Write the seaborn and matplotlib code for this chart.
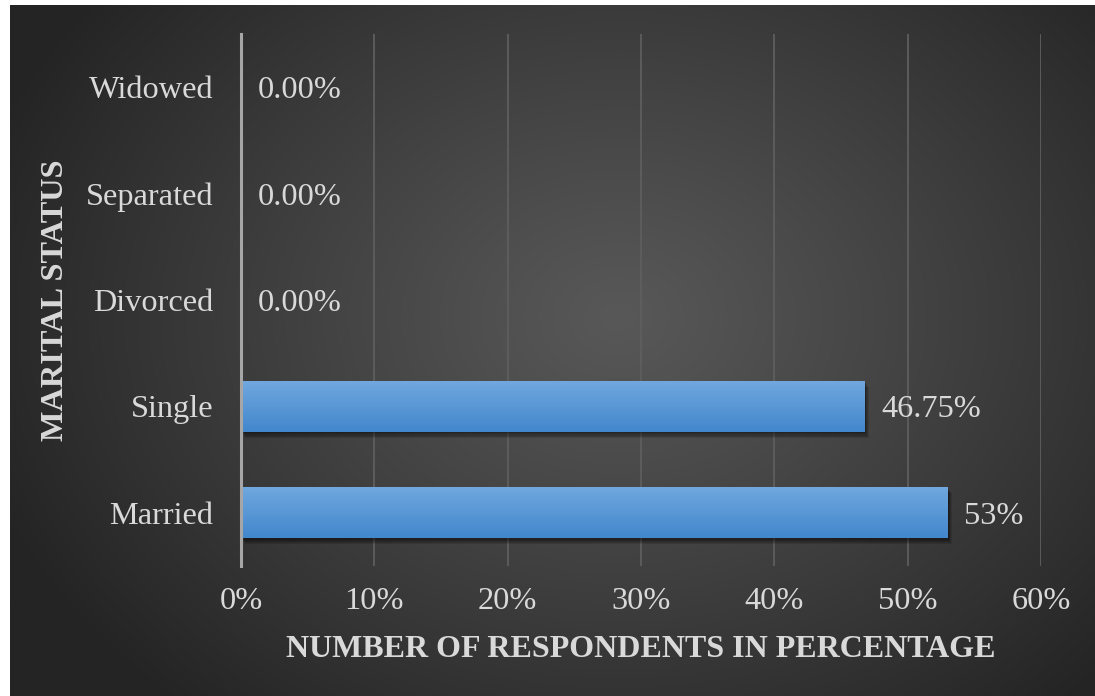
import numpy as np
import pandas as pd
import matplotlib
matplotlib.use("Agg")
import matplotlib.pyplot as plt
import matplotlib.patheffects as pe
import seaborn as sns

# Survey data: marital status of respondents
categories = ["Widowed", "Separated", "Divorced", "Single", "Married"]
percentages = [0.0, 0.0, 0.0, 46.75, 53.0]
value_labels = ["0.00%", "0.00%", "0.00%", "46.75%", "53%"]
x_ticks = [0, 10, 20, 30, 40, 50, 60]
x_tick_labels = ["0%", "10%", "20%", "30%", "40%", "50%", "60%"]

df = pd.DataFrame({"status": categories, "pct": percentages})

sns.set_theme(style="white")
plt.rcParams["font.family"] = ["Liberation Serif", "DejaVu Serif"]

TEXT = "#d9d9d9"
FS = 23.3
W, H = 1095, 696
fig = plt.figure(figsize=(W / 100, H / 100), dpi=100)
fig.patch.set_facecolor("white")

# Dark radial-gradient backdrop
bg = fig.add_axes([10 / W, 0, 1 - 10 / W, 1 - 5 / H], zorder=-5)
bh, bw = 400, 640
yy, xx = np.mgrid[0:bh, 0:bw]
cx, cy = 0.56 * bw, 0.45 * bh
r = np.sqrt(((xx - cx) / (0.62 * bw)) ** 2 + ((yy - cy) / (0.75 * bh)) ** 2)
r = np.clip(r, 0, 1)
g = (88 - (88 - 36) * r ** 1.1) / 255.0
bg.imshow(np.dstack([g, g, g]), aspect="auto", extent=[0, 1, 0, 1], interpolation="bilinear")
bg.set_axis_off()

ax = fig.add_axes([241 / W, 1 - 566 / H, 800 / W, 532 / H])
ax.set_facecolor("none")

sns.barplot(data=df, x="pct", y="status", order=categories, orient="h",
            color="#5b9bd5", width=0.48, ax=ax, zorder=3)

ax.set_xlim(x_ticks[0], x_ticks[-1])

# Vertical gradient fill and soft drop shadow on each bar
top_c = np.array([113, 168, 223]) / 255.0
bot_c = np.array([66, 135, 204]) / 255.0
t = np.linspace(0, 1, 64)[:, None]
grad = (top_c[None, :] * (1 - t) + bot_c[None, :] * t)[:, None, :]
shadow = [pe.SimplePatchShadow(offset=(1 + 0.5 * k, -1 - 0.8 * k), shadow_rgbFace="black", alpha=0.12)
          for k in range(5)]
for patch in ax.patches:
    patch.set_edgecolor("none")
    patch.set_path_effects(shadow + [pe.Normal()])
    x0, y0 = patch.get_x(), patch.get_y()
    w, h = patch.get_width(), patch.get_height()
    if w > 0:
        im = ax.imshow(grad, extent=[x0, x0 + w, y0 + h, y0], aspect="auto",
                       interpolation="bilinear", zorder=4)
        im.set_clip_path(patch)
ax.set_ylim(len(categories) - 0.5, -0.5)

# Value labels at the end of each bar
for i, (v, lab) in enumerate(zip(percentages, value_labels)):
    ax.annotate(lab, xy=(v, i), xytext=(12, 0), textcoords="offset points",
                ha="left", va="center_baseline", fontsize=FS, color=TEXT, zorder=5)

ax.set_xticks(x_ticks)
ax.set_xticklabels(x_tick_labels)
ax.grid(axis="x", color="#5e5e5e", linewidth=1.3, zorder=0)
ax.grid(axis="y", visible=False)
ax.set_axisbelow(True)

for side in ["top", "right", "bottom"]:
    ax.spines[side].set_visible(False)
ax.spines["left"].set_color("#a6a6a6")
ax.spines["left"].set_linewidth(2.2)
ax.spines["left"].set_zorder(6)

ax.tick_params(axis="both", length=0, labelsize=FS, labelcolor=TEXT)
ax.tick_params(axis="y", pad=20)
ax.tick_params(axis="x", pad=15)

ax.set_xlabel("NUMBER OF RESPONDENTS IN PERCENTAGE", fontsize=23, fontweight="bold",
              color=TEXT, labelpad=14)
ax.set_ylabel("MARITAL STATUS", fontsize=FS, fontweight="bold", color=TEXT, labelpad=11)

fig.savefig("out.png", dpi=100, facecolor=fig.get_facecolor())
